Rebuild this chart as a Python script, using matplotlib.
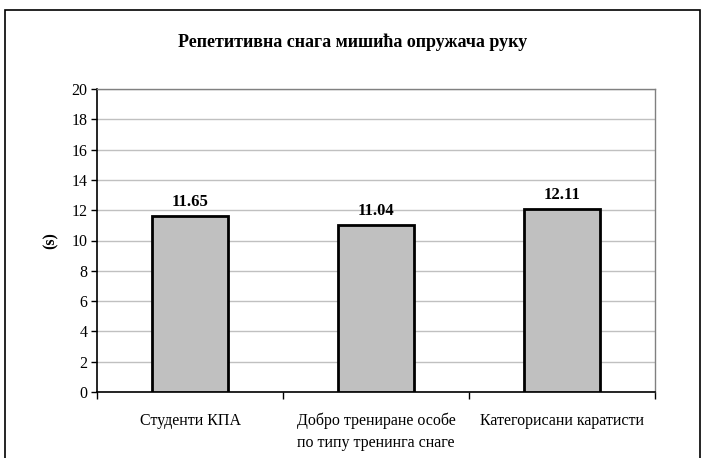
import matplotlib
matplotlib.use('Agg')
import numpy as np
import matplotlib.pyplot as plt
from matplotlib.patches import Rectangle

# data
groups = ['Студенти КПА', 'Добро трениране особе\nпо типу тренинга снаге', 'Категорисани каратисти']
values = [11.65, 11.04, 12.11]
labels = ['11.65', '11.04', '12.11']
title = 'Репетитивна снага мишића опружача руку'

plt.rcParams['font.family'] = ['Liberation Serif', 'DejaVu Serif']

fig = plt.figure(figsize=(7.05, 4.58), dpi=100)
ax = fig.add_axes([97/705, 1 - 392/458, (655-97)/705, (392-89)/458])

# outer frame of the chart
fig.patches.append(Rectangle((5/705, -0.05), (700-5)/705, 1.05 - 10/458,
                             transform=fig.transFigure, fill=False,
                             edgecolor='black', linewidth=1.2))

x = np.arange(len(groups))
ax.bar(x, values, width=0.41, color='#c0c0c0', edgecolor='black', linewidth=2, zorder=3)
for xi, v, lab in zip(x, values, labels):
    ax.annotate(lab, (xi, v), xytext=(0, 4), textcoords='offset points',
                ha='center', va='bottom', fontsize=12, fontweight='bold')

ax.set_xlim(-0.5, len(groups) - 0.5)
ax.set_ylim(0, 20)
ax.set_yticks(np.arange(0, 21, 2))
ax.yaxis.grid(True, color='#c0c0c0', linewidth=1, zorder=0)
ax.set_axisbelow(True)

ax.set_xticks(x)
ax.set_xticklabels(groups, fontsize=11.5, linespacing=1.45, multialignment='center')
ax.set_xticks(np.arange(-0.5, len(groups)), minor=True)
ax.tick_params(axis='x', which='major', length=0, pad=15)
ax.tick_params(axis='x', which='minor', length=5, width=1, direction='out')
ax.tick_params(axis='y', length=4, width=1, labelsize=11.5, pad=3)

for s in ['top', 'right']:
    ax.spines[s].set_color('#808080')
    ax.spines[s].set_linewidth(1)
for s in ['left', 'bottom']:
    ax.spines[s].set_color('black')
    ax.spines[s].set_linewidth(1.2)

ax.set_ylabel('(s)', fontsize=11.5, fontweight='bold', labelpad=9)
fig.text(0.5, 1 - 42/458, title, ha='center', va='center', fontsize=13, fontweight='bold')

fig.savefig('out.png', dpi=100)
